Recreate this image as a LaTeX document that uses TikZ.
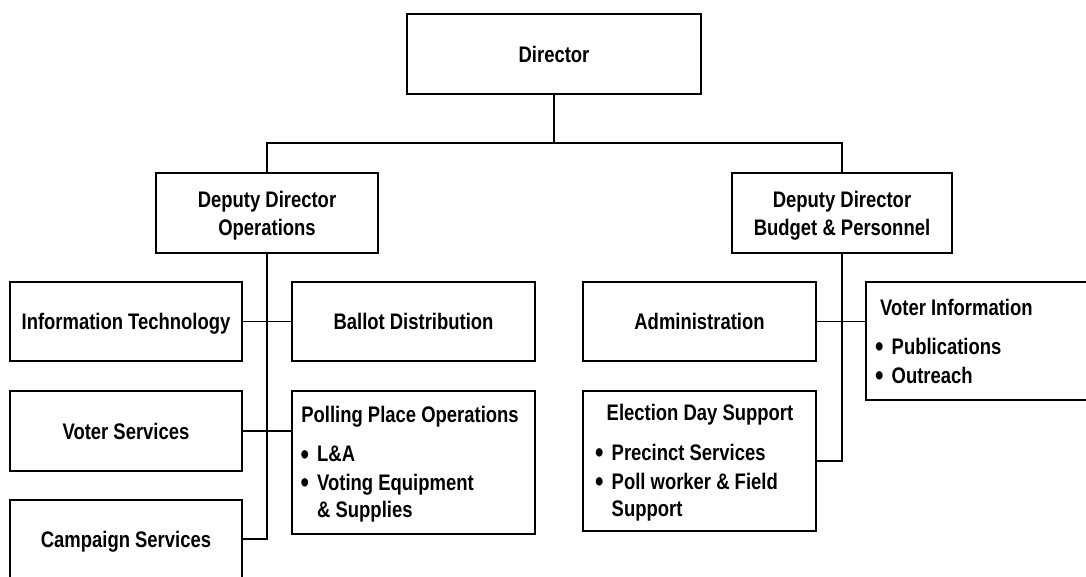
\documentclass[tikz,border=0pt]{standalone}
\usepackage{fontspec}
\setmainfont{Liberation Sans}[FakeStretch=0.82]
\usetikzlibrary{calc}
\newcommand\orgfont{\fontsize{22.5}{28}\selectfont\bfseries}
\newcommand\bul{\makebox[16.5pt][l]{\raisebox{-2.5pt}{\scalebox{1.3}{•}}}}
\newcommand\nobul{\hspace*{16.5pt}}
\begin{document}
\begin{tikzpicture}[x=1pt,y=-1pt,
  box/.style={draw, line width=2.3pt, rectangle, inner sep=0pt, font=\orgfont,
              text height=16pt, text depth=0pt},
  lbl/.style={inner sep=0pt, font=\orgfont},
  link/.style={line width=1.8pt}]
\useasboundingbox (0,0) rectangle (1086,576);

% boxes
\node[box, minimum width=294pt, minimum height=80pt] (dir) at (554,54) {Director};
\node[box, minimum width=222pt, minimum height=80pt] (dep1) at (267,213) {};
\node[box, minimum width=220pt, minimum height=80pt] (dep2) at (842,213) {};
\node[box, minimum width=232pt, minimum height=79pt] (it) at (126,321.5) {Information Technology};
\node[box, minimum width=243pt, minimum height=79pt] (ballot) at (413.5,321.5) {Ballot Distribution};
\node[box, minimum width=232pt, minimum height=80pt] (vs) at (126,431) {Voter Services};
\node[box, minimum width=243pt, minimum height=143pt] (ppo) at (413.5,462.5) {};
\node[box, minimum width=232pt, minimum height=78pt] (cs) at (126,539) {Campaign Services};
\node[box, minimum width=233pt, minimum height=79pt] (adm) at (699.5,321.5) {Administration};
\node[box, minimum width=240pt, minimum height=118pt] (vi) at (986,341) {};
\node[box, minimum width=233pt, minimum height=140pt] (eds) at (699.5,461) {};

% deputy labels
\node[lbl, anchor=base] (dep1a) at ($(dep1.center)+(0,-6)$) {Deputy Director};
\node[lbl, anchor=base] (dep1b) at ($(dep1.center)+(0,22)$) {Operations};
\node[lbl, anchor=base] (dep2a) at ($(dep2.center)+(0,-6)$) {Deputy Director};
\node[lbl, anchor=base] (dep2b) at ($(dep2.center)+(0,22)$) {Budget \& Personnel};

% polling place operations
\node[lbl, anchor=base] (ppo0) at (410,422.3) {Polling Place Operations};
\node[lbl, anchor=base west] (ppo1) at (300.5,461.7) {\bul L\&A};
\node[lbl, anchor=base west] (ppo2) at (300.5,490) {\bul Voting Equipment};
\node[lbl, anchor=base west] (ppo3) at (300.5,517.3) {\nobul\& Supplies};

% voter information
\node[lbl, anchor=base west] (vi0) at (880,315.7) {Voter Information};
\node[lbl, anchor=base west] (vi1) at (875,354) {\bul Publications};
\node[lbl, anchor=base west] (vi2) at (875,383.3) {\bul Outreach};

% election day support
\node[lbl, anchor=base] (eds0) at (700,420.7) {Election Day Support};
\node[lbl, anchor=base west] (eds1) at (595,460) {\bul Precinct Services};
\node[lbl, anchor=base west] (eds2) at (595,489.3) {\bul Poll worker \& Field};
\node[lbl, anchor=base west] (eds3) at (595,516.7) {\nobul Support};

% connectors
\coordinate (bus) at ($(dir.south)+(0,48)$);
\draw[link] (dir.south) -- (bus);
\draw[link] (dep1.north) |- (bus) -| (dep2.north);
\draw[link] (dep1.south) |- (cs.east);
\draw[link] (it.east) -- (ballot.west);
\draw[link] (vs.east) -- (vs.east -| ppo.west);
\draw[link] (dep2.south) |- (eds.east);
\draw[link] (adm.east) -- (adm.east -| vi.west);
\end{tikzpicture}
\end{document}
